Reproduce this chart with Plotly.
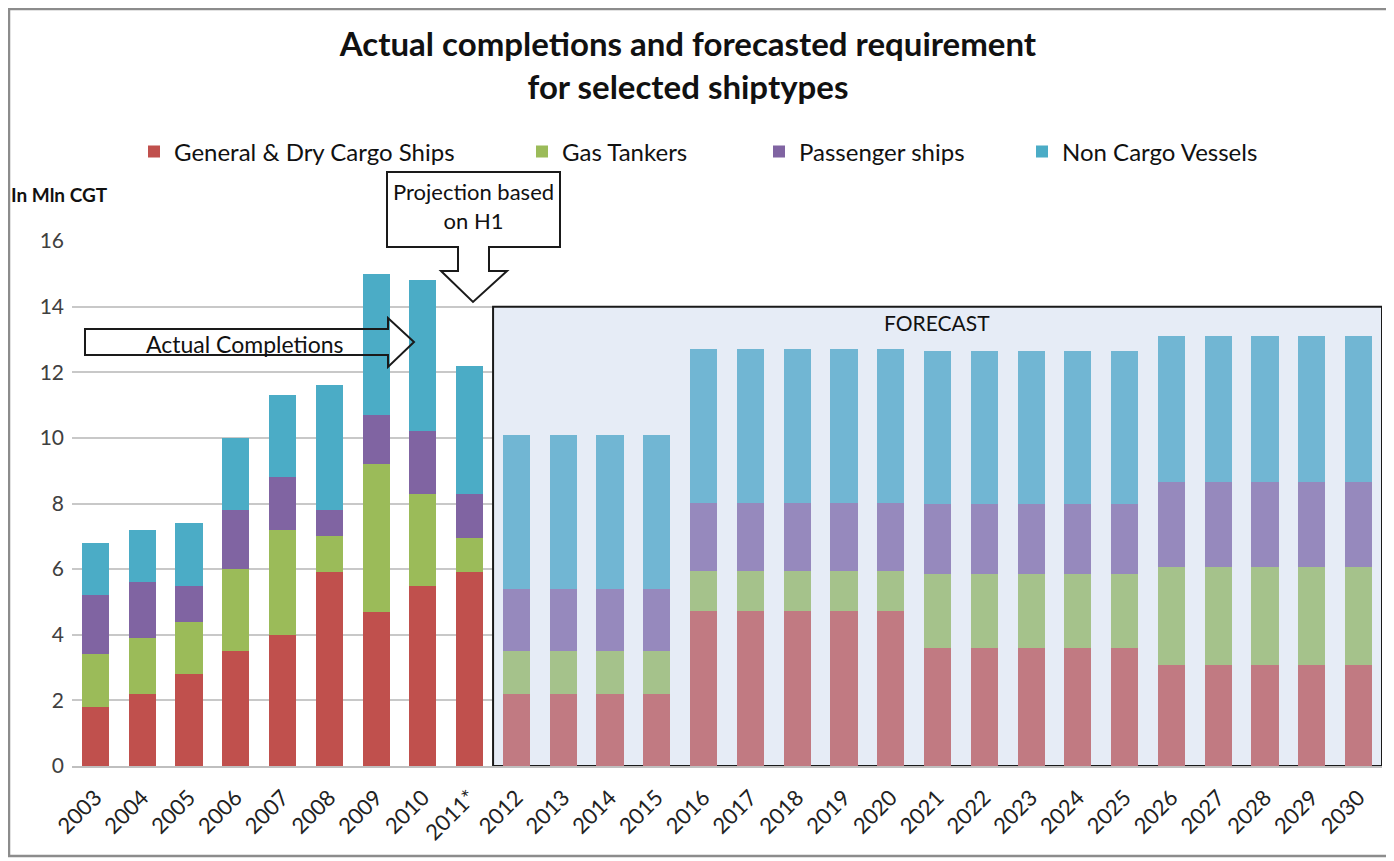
import plotly.graph_objects as go

years = ["2003", "2004", "2005", "2006", "2007", "2008", "2009", "2010", "2011*",
         "2012", "2013", "2014", "2015", "2016", "2017", "2018", "2019", "2020",
         "2021", "2022", "2023", "2024", "2025", "2026", "2027", "2028", "2029", "2030"]

general_dry = [1.8, 2.2, 2.8, 3.5, 4.0, 5.9, 4.7, 5.5, 5.9,
               2.2, 2.2, 2.2, 2.2, 4.72, 4.72, 4.72, 4.72, 4.72,
               3.6, 3.6, 3.6, 3.6, 3.6, 3.07, 3.07, 3.07, 3.07, 3.07]
gas_tankers = [1.6, 1.7, 1.6, 2.5, 3.2, 1.1, 4.5, 2.8, 1.05,
               1.32, 1.32, 1.32, 1.32, 1.22, 1.22, 1.22, 1.22, 1.22,
               2.26, 2.26, 2.26, 2.26, 2.26, 2.99, 2.99, 2.99, 2.99, 2.99]
passenger = [1.8, 1.7, 1.1, 1.8, 1.6, 0.8, 1.5, 1.9, 1.35,
             1.88, 1.88, 1.88, 1.88, 2.08, 2.08, 2.08, 2.08, 2.08,
             2.11, 2.11, 2.11, 2.11, 2.11, 2.59, 2.59, 2.59, 2.59, 2.59]
non_cargo = [1.6, 1.6, 1.9, 2.2, 2.5, 3.8, 4.3, 4.6, 3.9,
             4.69, 4.69, 4.69, 4.69, 4.69, 4.69, 4.69, 4.69, 4.69,
             4.67, 4.67, 4.67, 4.67, 4.67, 4.44, 4.44, 4.44, 4.44, 4.44]

series_names = ["General & Dry Cargo Ships", "Gas Tankers", "Passenger ships", "Non Cargo Vessels"]
series_values = [general_dry, gas_tankers, passenger, non_cargo]
actual_colors = ["#C0504D", "#9BBB59", "#8064A2", "#4BACC6"]
forecast_colors = ["#C17A82", "#A5C28B", "#9689BD", "#71B6D3"]
n_actual = 9
y_ticks = [0, 2, 4, 6, 8, 10, 12, 14, 16]

FONT = "Lato"
OFF = 8                      # page body margin offset
W, H = 1394 - OFF, 861 - OFF
L, R, T, B = 72, 1382, 241, 766  # plot area in screen pixels


def px(x):
    return (x - L) / (R - L)


def py(y):
    return (B - y) / (B - T)


legend_names = ["legend", "legend2", "legend3", "legend4"]
legend_x = [134, 522, 759, 1022]

fig = go.Figure()
for name, vals, ca, cf, lg in zip(series_names, series_values, actual_colors, forecast_colors, legend_names):
    cols = [ca if i < n_actual else cf for i in range(len(years))]
    fig.add_trace(go.Bar(x=years, y=vals, name=name, legend=lg,
                         marker=dict(color=cols, line=dict(width=0))))

shapes = []
shapes.append(dict(type="rect", xref="x", yref="y", x0=n_actual - 0.5, x1=len(years) - 0.5,
                   y0=0, y1=14, fillcolor="#E6ECF6", line=dict(color="#1a1a1a", width=2),
                   layer="between"))


def path_from(points):
    return "M " + " L ".join(f"{px(a):.5f},{py(b):.5f}" for a, b in points) + " Z"


arrow1 = [(85, 329), (388, 329), (388, 318), (414, 342), (388, 367), (388, 355), (85, 355)]
shapes.append(dict(type="path", xref="paper", yref="paper", path=path_from(arrow1),
                   fillcolor="rgba(255,255,255,0)", line=dict(color="#1a1a1a", width=2),
                   layer="above"))
callout = [(387, 172), (560, 172), (560, 247), (489, 247), (489, 271), (507, 271),
           (473, 302), (441, 271), (458, 271), (458, 247), (387, 247)]
shapes.append(dict(type="path", xref="paper", yref="paper", path=path_from(callout),
                   fillcolor="white", line=dict(color="#1a1a1a", width=2), layer="above"))
shapes.append(dict(type="rect", xref="paper", yref="paper", x0=px(9), x1=px(1390),
                   y0=py(856), y1=py(9), line=dict(color="#8c8c8c", width=2.5),
                   fillcolor="rgba(0,0,0,0)", layer="above"))

annotations = [
    dict(text="Actual Completions", xref="paper", yref="paper", x=px(245), y=py(344),
         showarrow=False, font=dict(family=FONT, size=23, color="#111111"),
         xanchor="center", yanchor="middle"),
    dict(text="Projection based<br>on H1", xref="paper", yref="paper", x=px(473), y=py(206),
         showarrow=False, font=dict(family=FONT, size=22, color="#111111"),
         xanchor="center", yanchor="middle"),
    dict(text="FORECAST", xref="paper", yref="paper", x=px(937), y=py(322),
         showarrow=False, font=dict(family=FONT, size=21, color="#111111"),
         xanchor="center", yanchor="middle"),
    dict(text="<b>In Mln CGT</b>", xref="paper", yref="paper", x=px(9), y=py(195),
         showarrow=False, font=dict(family=FONT, size=19, color="#111111"),
         xanchor="left", yanchor="middle"),
]

legend_common = dict(orientation="h", y=py(152), xanchor="left", yanchor="middle",
                     font=dict(family=FONT, size=24, color="#111111"),
                     bgcolor="rgba(0,0,0,0)", itemwidth=30)

layout_legends = {}
for lg, lx in zip(legend_names, legend_x):
    layout_legends[lg] = dict(legend_common, x=px(lx))

fig.update_layout(
    width=W, height=H,
    barmode="stack", bargap=0.42,
    paper_bgcolor="white", plot_bgcolor="white",
    margin=dict(l=L - OFF, r=W - (R - OFF), t=T - OFF, b=H - (B - OFF), autoexpand=False),
    title=dict(text="<b>Actual completions and forecasted requirement<br>for selected shiptypes</b>",
               x=(688 - OFF) / W, xref="container", xanchor="center",
               y=1 - (56 - OFF) / H, yref="container", yanchor="middle",
               font=dict(family=FONT, size=33, color="#111111")),
    font=dict(family=FONT),
    shapes=shapes, annotations=annotations,
    xaxis=dict(type="category", range=[-0.5, len(years) - 0.5], tickangle=-45,
               tickfont=dict(family=FONT, size=22, color="#222222"),
               showgrid=False, showline=True, linecolor="#BFBFBF", linewidth=2,
               ticks="", fixedrange=True, ticklabelstandoff=8),
    yaxis=dict(range=[0, 16], tickvals=y_ticks, showgrid=True, gridcolor="#C8C8C8", gridwidth=1.5,
               tickfont=dict(family=FONT, size=21, color="#404040"), ticks="",
               showline=False, zeroline=False, ticklabelstandoff=7),
    showlegend=True,
    **layout_legends,
)

fig.write_html("out.html")
